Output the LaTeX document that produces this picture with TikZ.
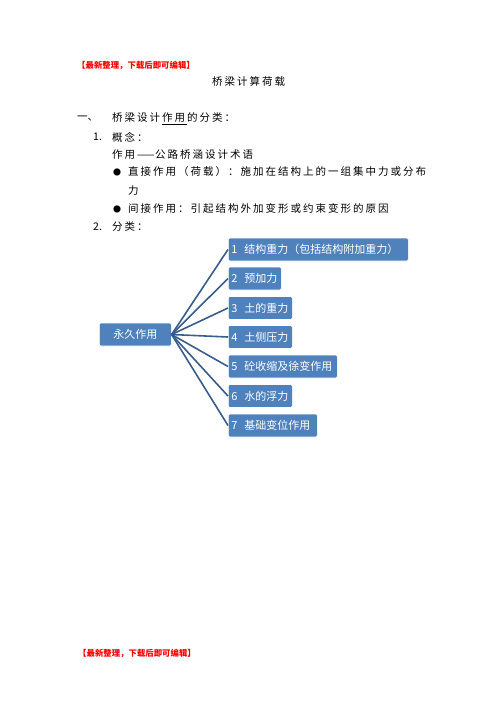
\documentclass[tikz,border=0pt]{standalone}
\usepackage{fontspec}
\setmainfont{Noto Sans CJK SC}
\newfontfamily\boxfont{Noto Sans CJK SC}
\usetikzlibrary{positioning}
\definecolor{boxblue}{RGB}{79,129,189}
\definecolor{lineblue}{RGB}{56,93,138}
% one character per fixed cell, as the page spaces them
\makeatletter
\newcommand\spreadtext[1]{\@tfor\spreadch:=#1\do{\makebox[12.5pt][l]{\spreadch}}}
\makeatother
\tikzset{
  txt/.style={anchor=west, inner sep=0pt, font=\fontsize{10.5}{12}\selectfont},
  note/.style={anchor=west, inner sep=0pt, text=red, font=\fontsize{8.4}{10}\selectfont\bfseries},
  kind/.style={draw=white, fill=boxblue, text=white, rounded corners=1.5pt, anchor=west,
    minimum height=23pt, inner xsep=3pt, line width=0.6pt, text width=#1, align=left,
    font=\boxfont\fontsize{11}{13}\selectfont},
  link/.style={draw=lineblue, line width=1.6pt}
}

\begin{document}
\begin{tikzpicture}[x=1pt,y=-1pt]
\useasboundingbox (0,0) rectangle (496,702);
% header and title
\node[note] (top) at (77,66) {【最新整理，下载后即可编辑】};
\node[txt] (title) at (212,82) {\spreadtext{桥梁计算荷载}};
% text lines
\node[txt] (n1) at (77,119) {一、};
\node[txt] (h1) at (112,119) {\spreadtext{桥梁设计}\underline{\spreadtext{作用}}\spreadtext{的分类：}};
\node[txt] (n2) at (93,137) {1.};
\node[txt] (h2) at (112,137) {\spreadtext{概念：}};
\node[txt] (def) at (112,155) {\spreadtext{作用}\makebox[18pt][l]{——}\spreadtext{公路桥涵设计术语}};
\node[txt, font=\fontsize{8}{10}\selectfont] (b1) at (113,172) {●};
\node[txt] (d1) at (128,172) {\spreadtext{直接作用（荷载）：施加在结构上的一组集中力或分布}};
\node[txt] (d1b) at (128,191) {力};
\node[txt, font=\fontsize{8}{10}\selectfont] (b2) at (113,209) {●};
\node[txt] (d2) at (128,209) {\spreadtext{间接作用：引起结构外加变形或约束变形的原因}};
\node[txt] (n3) at (93,227) {2.};
\node[txt] (h3) at (112,227) {\spreadtext{分类：}};
% classification tree
\node[kind=66pt, align=center] (root) at (99,334.5) {永久作用};
\node[kind=174pt] (k1) at (228,249.5) {1\hspace{7pt}结构重力（包括结构附加重力）};
\node[kind=47pt] (k2) at (228,278.5) {2\hspace{7pt}预加力};
\node[kind=58pt] (k3) at (228,308) {3\hspace{7pt}土的重力};
\node[kind=58pt] (k4) at (228,337) {4\hspace{7pt}土侧压力};
\node[kind=103pt] (k5) at (228,366.5) {5\hspace{7pt}砼收缩及徐变作用};
\node[kind=58pt] (k6) at (228,396) {6\hspace{7pt}水的浮力};
\node[kind=83pt] (k7) at (228,425.5) {7\hspace{7pt}基础变位作用};
\draw[link] (root.east) -- (k1.west);
\draw[link] (root.east) -- (k2.west);
\draw[link] (root.east) -- (k3.west);
\draw[link] (root.east) -- (k4.west);
\draw[link] (root.east) -- (k5.west);
\draw[link] (root.east) -- (k6.west);
\draw[link] (root.east) -- (k7.west);
% footer
\node[note] (bottom) at (78,654) {【最新整理，下载后即可编辑】};
\end{tikzpicture}
\end{document}
